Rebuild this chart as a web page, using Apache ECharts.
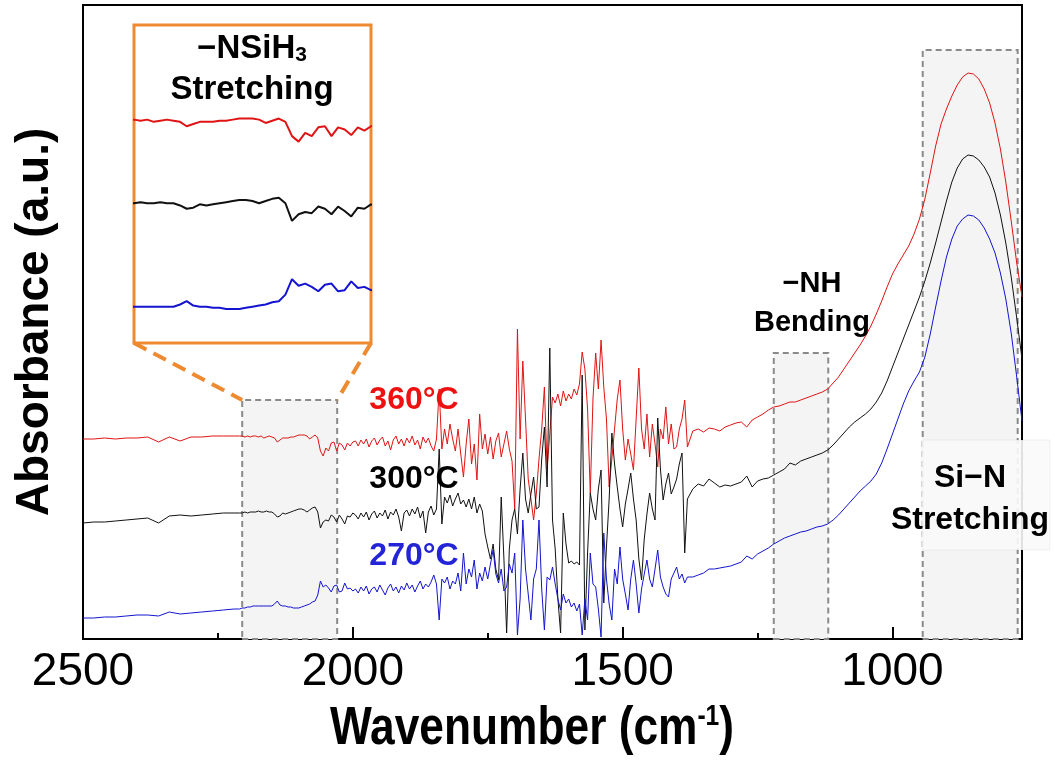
<!DOCTYPE html>
<html>
<head>
<meta charset="utf-8">
<script src="https://cdn.jsdelivr.net/npm/echarts@6/dist/echarts.min.js"></script>
<style>
html, body { margin: 0; padding: 0; background: #fff; }
#chart { width: 1055px; height: 765px; }
</style>
</head>
<body>
<div id="chart"></div>
<script>
// wavenumber (cm-1)
const wavenumber = [
  2500,2480,2460,2440,2420,2400,2380,2360,2340,2320,2300,2280,2260,2240,2220,
  2210,2205,2200,2195,2190,2185,2180,2175,2170,2165,2160,2155,2150,2145,2140,2135,2130,2125,2120,2115,2110,
  2105,2100,2095,2090,2085,2080,2075,2070,2065,2060,2055,2050,2045,2040,2035,2030,2025,2020,2015,2010,2005,2000,
  1995,1990,1985,1980,1975,1970,1965,1960,1955,1950,
  1945,1940,1935,1930,1925,1920,1915,1910,1905,1900,
  1895,1890,1885,1880,1875,1870,1865,1860,1855,1850,
  1845,1840,1835,1830,1825,1820,1815,1810,1805,1800,
  1795,1790,1785,1780,1775,1770,1765,1760,1755,1750,
  1745,1740,1735,1730,1725,1720,1715,1710,1705,1700,
  1695,1690,1685,1680,1675,1670,1665,1660,1655,1650,
  1645,1640,1635,1630,1625,1620,1615,1610,1605,1600,
  1595,1590,1585,1580,1575,1570,1565,1560,1555,1550,
  1545,1540,1535,1530,1525,1520,1515,1510,1505,1500,
  1495,1490,1485,1480,1475,1470,1465,1460,1455,1450,
  1445,1440,1435,1430,1425,1420,1415,1410,1405,1400,
  1395,1390,1385,1380,
  1370,1360,1350,1340,1330,1320,1310,1300,1290,1280,
  1270,1260,1250,1240,1230,1220,1210,1200,1190,1180,
  1170,1160,1150,1140,1130,1120,1110,1100,1090,1080,
  1070,1060,1050,1040,1030,1020,1010,1000,990,980,
  970,960,950,940,930,920,910,900,890,880,
  870,860,850,840,830,820,810,800,790,780,
  770,760
];

// absorbance (a.u., stacked as plotted)
const abs360 = [
  2.00,2.00,2.01,2.00,2.01,2.01,2.02,1.97,2.02,1.98,2.02,2.02,2.03,2.03,2.03,
  2.03,2.03,2.02,2.03,2.02,2.03,2.03,2.02,2.03,2.01,2.02,2.03,2.02,2.01,1.97,1.99,2.01,2.01,2.01,2.02,2.02,
  2.03,2.04,2.04,2.04,2.03,2.00,2.02,2.04,2.01,1.88,1.83,1.91,1.88,1.96,1.97,1.88,1.96,1.94,1.89,1.96,1.93,1.97,
  1.98,1.93,1.99,1.95,2.00,1.92,1.98,2.01,1.94,1.99,
  2.02,1.93,1.98,1.89,1.99,2.03,1.95,2.00,1.93,2.01,
  1.96,2.03,1.94,1.99,1.90,2.02,1.96,2.01,1.93,1.88,
  2.00,2.50,1.90,2.10,1.95,2.15,2.00,1.88,2.10,1.85,
  1.62,1.95,2.20,1.75,1.95,1.59,2.25,1.90,2.05,1.85,
  2.02,1.80,1.98,2.06,1.82,1.95,2.08,1.90,1.78,1.30,
  3.10,2.00,2.78,2.20,1.60,1.40,1.19,1.45,1.80,2.10,
  2.52,1.70,2.05,2.42,2.36,2.45,2.33,2.48,2.38,2.45,
  2.40,2.50,2.44,2.55,2.87,2.70,2.30,1.46,2.40,2.86,
  2.50,2.99,2.52,2.20,1.52,1.80,2.10,2.40,2.59,2.10,
  1.79,2.00,1.85,1.69,2.20,2.71,2.10,1.90,2.25,1.82,
  2.15,1.95,1.72,2.10,2.00,2.32,1.95,2.15,1.90,1.92,
  2.10,2.20,2.39,1.92,
  2.08,2.10,2.07,2.11,2.10,2.08,2.12,2.14,2.16,2.17,
  2.12,2.19,2.22,2.25,2.29,2.32,2.33,2.35,2.37,2.37,
  2.39,2.41,2.43,2.45,2.47,2.50,2.56,2.62,2.70,2.78,
  2.86,2.94,3.03,3.13,3.25,3.38,3.52,3.65,3.75,3.84,
  3.93,4.05,4.20,4.40,4.66,4.93,5.15,5.30,5.43,5.54,
  5.62,5.66,5.65,5.60,5.50,5.36,5.16,4.90,4.57,4.18,
  3.77,3.42
];

const abs300 = [
  1.16,1.17,1.17,1.18,1.19,1.20,1.21,1.16,1.23,1.24,1.23,1.24,1.25,1.26,1.26,
  1.26,1.26,1.27,1.26,1.27,1.27,1.27,1.28,1.27,1.27,1.28,1.27,1.27,1.25,1.22,1.23,1.26,1.25,1.26,1.27,1.28,
  1.29,1.30,1.30,1.29,1.27,1.29,1.31,1.32,1.27,1.11,1.17,1.19,1.18,1.24,1.22,1.17,1.24,1.20,1.15,1.23,1.22,1.26,
  1.24,1.20,1.26,1.22,1.27,1.19,1.25,1.28,1.21,1.26,
  1.23,1.29,1.20,1.27,1.24,1.30,1.22,1.08,1.26,1.29,
  1.23,1.30,1.25,1.32,1.21,1.28,1.06,1.27,1.33,1.24,
  1.30,1.90,1.15,1.42,1.36,1.44,1.33,1.40,1.46,1.35,
  1.39,1.32,1.40,1.30,1.42,1.26,1.35,1.28,1.05,0.92,
  0.80,0.95,0.70,0.59,1.42,0.80,0.06,0.90,1.19,1.30,
  1.05,1.50,1.86,1.40,1.26,1.45,1.62,1.30,1.32,1.80,
  2.12,1.52,2.91,1.19,0.90,0.40,0.06,1.26,0.95,0.76,
  0.78,0.75,0.77,0.74,2.64,0.09,0.86,1.46,1.30,1.19,
  1.50,1.69,0.36,0.92,1.40,2.06,1.75,1.52,1.30,1.12,
  1.35,1.50,1.66,1.40,1.19,0.80,0.59,1.00,1.25,1.46,
  1.30,1.19,2.21,1.70,1.39,1.55,1.66,1.45,1.52,1.60,
  1.75,1.86,0.86,1.40,
  1.50,1.55,1.53,1.60,1.56,1.52,1.54,1.53,1.55,1.57,
  1.63,1.52,1.58,1.60,1.61,1.64,1.67,1.70,1.76,1.74,
  1.78,1.80,1.82,1.84,1.86,1.89,1.94,2.00,2.06,2.12,
  2.17,2.21,2.25,2.30,2.37,2.46,2.58,2.72,2.86,3.00,
  3.14,3.28,3.42,3.58,3.76,3.96,4.17,4.38,4.57,4.71,
  4.80,4.84,4.83,4.79,4.72,4.62,4.46,4.24,3.96,3.62,
  3.22,2.80
];

const abs270 = [
  0.21,0.21,0.22,0.22,0.23,0.24,0.24,0.23,0.27,0.25,0.26,0.27,0.28,0.29,0.30,
  0.30,0.31,0.31,0.32,0.32,0.33,0.33,0.33,0.33,0.33,0.33,0.33,0.33,0.35,0.38,0.34,0.33,0.33,0.32,0.32,0.31,
  0.31,0.31,0.32,0.33,0.34,0.35,0.37,0.38,0.44,0.58,0.52,0.54,0.51,0.47,0.53,0.54,0.47,0.48,0.56,0.50,0.51,0.48,
  0.50,0.46,0.52,0.48,0.53,0.45,0.50,0.52,0.47,0.54,
  0.49,0.44,0.51,0.55,0.48,0.52,0.46,0.53,0.49,0.56,
  0.50,0.54,0.47,0.53,0.58,0.50,0.55,0.52,0.57,0.64,
  0.55,0.19,0.60,0.56,0.62,0.50,0.58,0.55,0.66,0.48,
  0.86,0.55,0.70,0.62,0.79,0.50,0.66,0.58,0.72,0.60,
  0.75,0.89,0.65,0.56,0.70,0.48,0.52,0.75,0.66,0.86,
  0.04,0.40,1.19,0.70,0.45,0.19,0.60,0.70,1.19,0.50,
  0.09,0.62,0.59,0.72,0.55,0.40,0.29,0.45,0.36,0.40,
  0.32,0.36,0.28,0.35,0.04,0.40,0.19,0.86,0.55,0.52,
  0.30,0.02,1.06,0.60,0.35,0.19,0.70,0.55,0.92,0.60,
  0.45,0.29,0.60,0.79,0.55,0.26,0.50,0.65,0.79,0.60,
  0.52,0.70,0.89,0.62,0.52,0.45,0.42,0.60,0.66,0.72,
  0.60,0.65,0.56,0.62,
  0.62,0.64,0.66,0.70,0.70,0.71,0.72,0.73,0.75,0.77,
  0.83,0.80,0.85,0.88,0.91,0.95,0.98,1.01,1.03,1.05,
  1.07,1.08,1.10,1.12,1.13,1.15,1.19,1.24,1.30,1.36,
  1.42,1.48,1.53,1.58,1.65,1.76,1.90,2.05,2.20,2.35,
  2.48,2.58,2.67,2.82,3.05,3.32,3.58,3.82,4.00,4.13,
  4.20,4.24,4.23,4.19,4.11,4.00,3.86,3.66,3.40,3.06,
  2.63,2.18
];

const seriesNames = ['360°C', '300°C', '270°C'];
const xTicks = [2500, 2000, 1500, 1000];
const xMinorTicks = [2250, 1750, 1250];
const insetTicks = [2150, 2100, 2050];
// shaded bands: [from wn, to wn, top]
const regions = [[2205, 2029, 2.39], [1220, 1119, 2.86], [944, 768, 5.89]];

[abs360, abs300, abs270].forEach(function (a, i) {
  if (a.length !== wavenumber.length) throw new Error(seriesNames[i] + ' has ' + a.length + ' vs ' + wavenumber.length);
});

function pairs(arr) {
  return wavenumber.map(function (w, i) { return [w, arr[i]]; });
}

const FONT = '"Liberation Sans", Arial, sans-serif';
const lineColors = ['#e01414', '#111111', '#1414d0'];
const spectra = [abs360, abs300, abs270];

let myChart = echarts.init(document.getElementById('chart'));

let series = [{
  type: 'line',
  xAxisIndex: 0,
  yAxisIndex: 0,
  data: [],
  z: 1,
  silent: true,
  markArea: {
    silent: true,
    itemStyle: {
      color: '#f4f4f4',
      borderColor: '#8a8a8a',
      borderWidth: 2,
      borderType: [6, 4]
    },
    data: regions.map(function (r) {
      return [{ xAxis: r[0], yAxis: 0 }, { xAxis: r[1], yAxis: r[2] }];
    })
  }
}];

spectra.forEach(function (arr, i) {
  series.push({
    name: seriesNames[i],
    type: 'line',
    xAxisIndex: 0,
    yAxisIndex: 0,
    data: pairs(arr),
    showSymbol: false,
    symbol: 'none',
    z: 2,
    lineStyle: { color: lineColors[i], width: 1 }
  });
  series.push({
    name: seriesNames[i] + ' inset',
    type: 'line',
    xAxisIndex: 2,
    yAxisIndex: 1,
    data: pairs(arr),
    showSymbol: false,
    symbol: 'none',
    z: 6,
    lineStyle: { color: lineColors[i], width: 2 }
  });
});

let option = {
  backgroundColor: '#fff',
  animation: false,
  grid: [{
    left: 83, right: 33, top: 5, bottom: 126,
    show: true, borderColor: '#000', borderWidth: 2
  }, {
    left: 134, top: 25, width: 237, height: 318,
    show: true, borderColor: '#ee8a30', borderWidth: 3, backgroundColor: '#fff', z: 5
  }],
  xAxis: [{
    type: 'value', gridIndex: 0, min: 760, max: 2500, inverse: true,
    axisLine: { show: true, lineStyle: { color: '#000', width: 2 } },
    axisTick: { show: true, inside: true, length: 12, customValues: xTicks, lineStyle: { color: '#000', width: 2 } },
    axisLabel: {
      customValues: xTicks, fontSize: 46, color: '#000', margin: 10, fontFamily: FONT,
      formatter: function (v) { return String(v); }
    },
    splitLine: { show: false }
  }, {
    type: 'value', gridIndex: 0, min: 760, max: 2500, inverse: true, position: 'bottom',
    axisLine: { show: false },
    axisTick: { show: true, inside: true, length: 6, customValues: xMinorTicks, lineStyle: { color: '#000', width: 2 } },
    axisLabel: { show: false },
    splitLine: { show: false }
  }, {
    type: 'value', gridIndex: 1, min: 2000, max: 2180, inverse: true,
    axisLine: { show: false },
    axisTick: { show: true, inside: true, length: 5, customValues: insetTicks, lineStyle: { color: '#333', width: 1.5 } },
    axisLabel: { show: false },
    splitLine: { show: false }
  }],
  yAxis: [{
    type: 'value', gridIndex: 0, min: 0, max: 6.34,
    axisLine: { show: true, lineStyle: { color: '#000', width: 2 } },
    axisTick: { show: false },
    axisLabel: { show: false },
    splitLine: { show: false },
    name: 'Absorbance (a.u.)',
    nameLocation: 'middle',
    nameGap: 25,
    nameRotate: 90,
    nameTextStyle: { fontSize: 46, fontWeight: 'bold', fontFamily: FONT, color: '#000' }
  }, {
    type: 'value', gridIndex: 1, min: 0, max: 2.89,
    axisLine: { show: false }, axisTick: { show: false },
    axisLabel: { show: false }, splitLine: { show: false }
  }],
  series: series
};
myChart.setOption(option);

// annotation texts and the zoom connectors
function txt(x, y, text, color, size, rich) {
  return {
    type: 'text', x: x, y: y, z: 100,
    style: {
      text: text, fill: color,
      font: 'bold ' + size + 'px ' + FONT,
      align: 'center', verticalAlign: 'middle',
      textAlign: 'center', textVerticalAlign: 'middle',
      rich: rich
    }
  };
}
let subRich = {
  m: { fontSize: 33, fontWeight: 'bold', fontFamily: FONT, fill: '#000', lineHeight: 34 },
  s: { fontSize: 21, fontWeight: 'bold', fontFamily: FONT, fill: '#000', lineHeight: 10, verticalAlign: 'bottom' }
};
let supRich = {
  a: { fontSize: 54, fontWeight: 'bold', fontFamily: FONT, fill: '#000', lineHeight: 54 },
  b: { fontSize: 30, fontWeight: 'bold', fontFamily: FONT, fill: '#000', lineHeight: 30, verticalAlign: 'top' }
};

let insetBL = myChart.convertToPixel({ gridIndex: 1 }, [2180, 0]);
let insetBR = myChart.convertToPixel({ gridIndex: 1 }, [2000, 0]);
let boxL = myChart.convertToPixel({ gridIndex: 0 }, [regions[0][0], regions[0][2]]);
let boxR = myChart.convertToPixel({ gridIndex: 0 }, [regions[0][1], regions[0][2]]);
let connector = { stroke: '#ee8a30', lineWidth: 4, lineDash: [14, 8] };

let xTitle = txt(532, 729, '{a|Wavenumber (cm}{b|-1}{a|)}', '#000', 54, supRich);
xTitle.scaleX = 0.82;

myChart.setOption({
  graphic: [
    { type: 'line', z: 100, shape: { x1: insetBL[0], y1: insetBL[1], x2: boxL[0], y2: boxL[1] }, style: connector },
    { type: 'line', z: 100, shape: { x1: insetBR[0], y1: insetBR[1], x2: boxR[0], y2: boxR[1] }, style: connector },
    xTitle,
    txt(414, 400, seriesNames[0], '#ee1111', 32),
    txt(414, 479, seriesNames[1], '#000', 32),
    txt(414, 556, seriesNames[2], '#2323d8', 32),
    txt(252, 49, '{m|−NSiH}{s|3}', '#000', 33, subRich),
    txt(252, 90, 'Stretching', '#000', 33),
    txt(812, 284, '−NH', '#000', 29),
    txt(812, 323, 'Bending', '#000', 29),
    {
      type: 'rect', z: 99,
      shape: { x: 922, y: 440, width: 128, height: 110 },
      style: { fill: 'rgba(250,250,250,0.9)', stroke: 'rgba(0,0,0,0.05)', lineWidth: 1 }
    },
    txt(970, 478, 'Si−N', '#000', 32),
    txt(970, 520, 'Stretching', '#000', 32)
  ]
});
</script>
</body>
</html>
